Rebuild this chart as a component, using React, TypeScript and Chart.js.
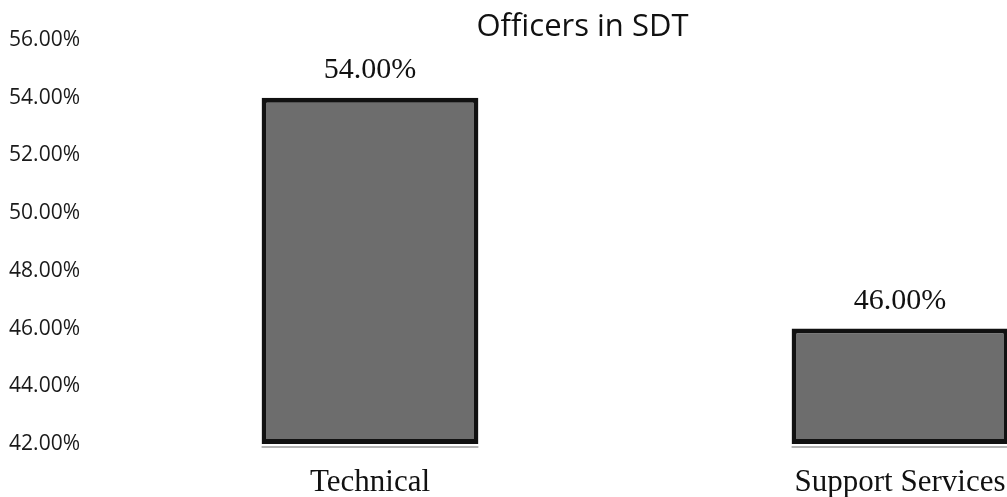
import React, { useEffect, useRef } from "react";
import { Chart, registerables } from "chart.js";

Chart.register(...registerables);

const categories = ["Technical", "Support Services"];
const shares = [54.0, 46.0];
const yMin = 42;
const yMax = 56;
const yStep = 2;
const titleText = "Officers in SDT";

const valueLabels = {
  id: "valueLabels",
  afterDatasetsDraw(chart: any) {
    const { ctx } = chart;
    const meta = chart.getDatasetMeta(0);
    ctx.save();
    meta.data.forEach((bar: any, i: number) => {
      const { x, y, base, width } = bar.getProps(["x", "y", "base", "width"], true);
      // faint rule under each bar
      ctx.strokeStyle = "#b4b4b4";
      ctx.lineWidth = 2;
      ctx.beginPath();
      ctx.moveTo(x - width / 2, base + 3);
      ctx.lineTo(x + width / 2, base + 3);
      ctx.stroke();
      // value above bar
      ctx.fillStyle = "#111111";
      ctx.font = '30px "Liberation Serif", "Times New Roman", serif';
      ctx.textAlign = "center";
      ctx.textBaseline = "alphabetic";
      ctx.fillText(shares[i].toFixed(2) + "%", x, y - 20);
    });
    ctx.restore();
  },
};

export default function App() {
  const canvasRef = useRef<HTMLCanvasElement | null>(null);

  useEffect(() => {
    document.body.style.margin = "0";
    document.body.style.overflow = "hidden";
    const canvas = canvasRef.current;
    if (!canvas) return;
    const chart = new Chart(canvas, {
      type: "bar",
      data: {
        labels: categories,
        datasets: [
          {
            data: shares,
            base: yMin,
            backgroundColor: "#6d6d6d",
            borderColor: "#111111",
            borderWidth: 5,
            borderSkipped: false,
            barPercentage: 0.409,
            categoryPercentage: 1,
            clip: false,
          },
        ],
      },
      options: {
        animation: false,
        responsive: false,
        maintainAspectRatio: false,
        layout: { padding: 0 },
        plugins: {
          legend: { display: false },
          tooltip: { enabled: false },
          title: {
            display: true,
            text: titleText,
            color: "#111111",
            font: { family: '"Open Sans", sans-serif', size: 31, weight: "normal", lineHeight: 1 },
            padding: { top: 12, bottom: -3 },
          },
        },
        scales: {
          x: {
            grid: { display: false, drawTicks: false },
            border: { display: false },
            ticks: {
              color: "#111111",
              padding: 20,
              font: { family: '"Liberation Serif", "Times New Roman", serif', size: 31 },
            },
            afterFit(scale: any) {
              scale.height = 53;
            },
          },
          y: {
            min: yMin,
            max: yMax,
            grid: { display: false, drawTicks: false },
            border: { display: false },
            ticks: {
              stepSize: yStep,
              padding: 25,
              color: "#1a1a1a",
              font: { family: '"Open Sans", sans-serif', size: 21 },
              callback: (v: any) => Number(v).toFixed(2) + "%",
            },
            afterFit(scale: any) {
              scale.width = 105;
            },
          },
        },
      },
      plugins: [valueLabels],
    });
    return () => chart.destroy();
  }, []);

  return (
    <div style={{ width: 1165, height: 497, position: "relative" }}>
      <canvas ref={canvasRef} width={1165} height={497} style={{ display: "block" }} />
    </div>
  );
}
